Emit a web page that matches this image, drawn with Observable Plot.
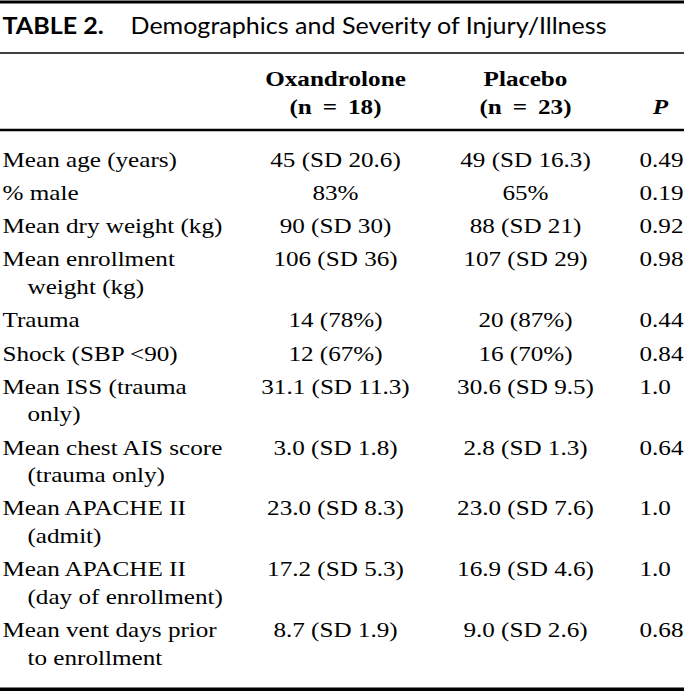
<!DOCTYPE html>
<html>
<head>
<meta charset="utf-8">
<script src="https://cdn.jsdelivr.net/npm/d3@7"></script>
<script src="https://cdn.jsdelivr.net/npm/@observablehq/plot@0.6"></script>
<style>
  html, body { margin: 0; padding: 0; background: #fff; }
  #chart { width: 684px; height: 691px; }
</style>
</head>
<body>
<div id="chart"></div>
<script>
// ---- content ----
const tableNumber = "TABLE 2.";
const tableTitle = "Demographics and Severity of Injury/Illness";
const groupNames = ["Oxandrolone", "Placebo"];
const groupCounts = ["(n = 18)", "(n = 23)"];
const pHeader = "P";
const variables = [
  "Mean age (years)", "% male", "Mean dry weight (kg)", "Mean enrollment",
  "Trauma", "Shock (SBP <90)", "Mean ISS (trauma", "Mean chest AIS score",
  "Mean APACHE II", "Mean APACHE II", "Mean vent days prior"
];
const variableContinuations = [
  "", "", "", "weight (kg)", "", "", "only)", "(trauma only)",
  "(admit)", "(day of enrollment)", "to enrollment"
];
const oxandrolone = [
  "45 (SD 20.6)", "83%", "90 (SD 30)", "106 (SD 36)", "14 (78%)", "12 (67%)",
  "31.1 (SD 11.3)", "3.0 (SD 1.8)", "23.0 (SD 8.3)", "17.2 (SD 5.3)", "8.7 (SD 1.9)"
];
const placebo = [
  "49 (SD 16.3)", "65%", "88 (SD 21)", "107 (SD 29)", "20 (87%)", "16 (70%)",
  "30.6 (SD 9.5)", "2.8 (SD 1.3)", "23.0 (SD 7.6)", "16.9 (SD 4.6)", "9.0 (SD 2.6)"
];
const pValues = ["0.49", "0.19", "0.92", "0.98", "0.44", "0.84", "1.0", "0.64", "1.0", "1.0", "0.68"];

// ---- layout (pixel frame) ----
const W = 684, H = 691;
const col = {label: 2, ox: 335, pl: 525, pStart: 639, pHead: 660, titleNum: 2, titleText: 130};
const lines = {topRule: 1.5, title: 33, titleRule: 52.5, headBottom: 113, headRule: 129.5, bottomRule: 689};
const firstRow = 166, rowStep = 33.3, contStep = 27.5, indent = 25;
const serifStretch = 1.17;   // glyphs in the reference are wider than plain Times
const titleStretch = 1.09;

let contBefore = 0;
const rows = variables.map((v, i) => {
  const y = firstRow + i * rowStep + contBefore * contStep;
  if (variableContinuations[i]) contBefore++;
  return {variable: v, cont: variableContinuations[i], ox: oxandrolone[i], pl: placebo[i], p: pValues[i], y};
});
const header = groupNames.map((name, i) => ({text: `${name}\n${groupCounts[i]}`, x: i === 0 ? col.ox : col.pl}));

const serif = "Liberation Serif";
const sans = "Lato";

const chart = Plot.plot({
  width: W,
  height: H,
  margin: 0,
  x: {domain: [0, W], range: [0, W], axis: null},
  y: {domain: [0, H], range: [0, H], axis: null},
  style: {fontFamily: serif, fontSize: "21.5px", background: "#fff", color: "#000", overflow: "visible"},
  marks: [
    Plot.ruleY([lines.topRule], {strokeWidth: 3, stroke: "#000"}),
    Plot.text([tableNumber], {x: col.titleNum, y: lines.title, text: d => d, textAnchor: "start", lineAnchor: "bottom", fontFamily: sans, fontWeight: "bold", fontSize: 23}),
    Plot.text([tableTitle], {x: col.titleText, y: lines.title, text: d => d, textAnchor: "start", lineAnchor: "bottom", fontFamily: sans, fontSize: 23}),
    Plot.ruleY([lines.titleRule], {strokeWidth: 1.5, stroke: "#000"}),
    Plot.text(header, {x: "x", y: lines.headBottom, text: "text", textAnchor: "middle", lineAnchor: "bottom", lineHeight: 28 / 21.5, fontWeight: "bold"}),
    Plot.text([pHeader], {x: col.pHead, y: lines.headBottom, text: d => d, textAnchor: "middle", lineAnchor: "bottom", fontWeight: "bold", fontStyle: "italic"}),
    Plot.ruleY([lines.headRule], {strokeWidth: 2.5, stroke: "#000"}),
    Plot.text(rows, {x: col.label, y: "y", text: "variable", textAnchor: "start", lineAnchor: "bottom"}),
    Plot.text(rows.filter(r => r.cont), {x: col.label, y: "y", text: "cont", textAnchor: "start", lineAnchor: "bottom", dx: indent, dy: contStep}),
    Plot.text(rows, {x: col.ox, y: "y", text: "ox", textAnchor: "middle", lineAnchor: "bottom"}),
    Plot.text(rows, {x: col.pl, y: "y", text: "pl", textAnchor: "middle", lineAnchor: "bottom"}),
    Plot.text(rows, {x: col.pStart, y: "y", text: "p", textAnchor: "start", lineAnchor: "bottom"}),
    Plot.ruleY([lines.bottomRule], {strokeWidth: 4, stroke: "#000"})
  ]
});

// horizontal glyph stretch about each text's own anchor
d3.select(chart).selectAll("text").each(function () {
  const t = this.textContent;
  const isTitle = t === tableNumber || t === tableTitle;
  const s = isTitle ? titleStretch : serifStretch;
  const tr = this.getAttribute("transform");
  if (tr) {
    this.setAttribute("transform", `${tr} scale(${s},1)`);
  } else {
    const x = +this.getAttribute("x") || 0;
    this.setAttribute("transform", `translate(${x},0) scale(${s},1) translate(${-x},0)`);
  }
  if (groupCounts.some(c => t.includes(c))) this.style.wordSpacing = "4px";
});
document.getElementById("chart").appendChild(chart);
</script>
</body>
</html>
